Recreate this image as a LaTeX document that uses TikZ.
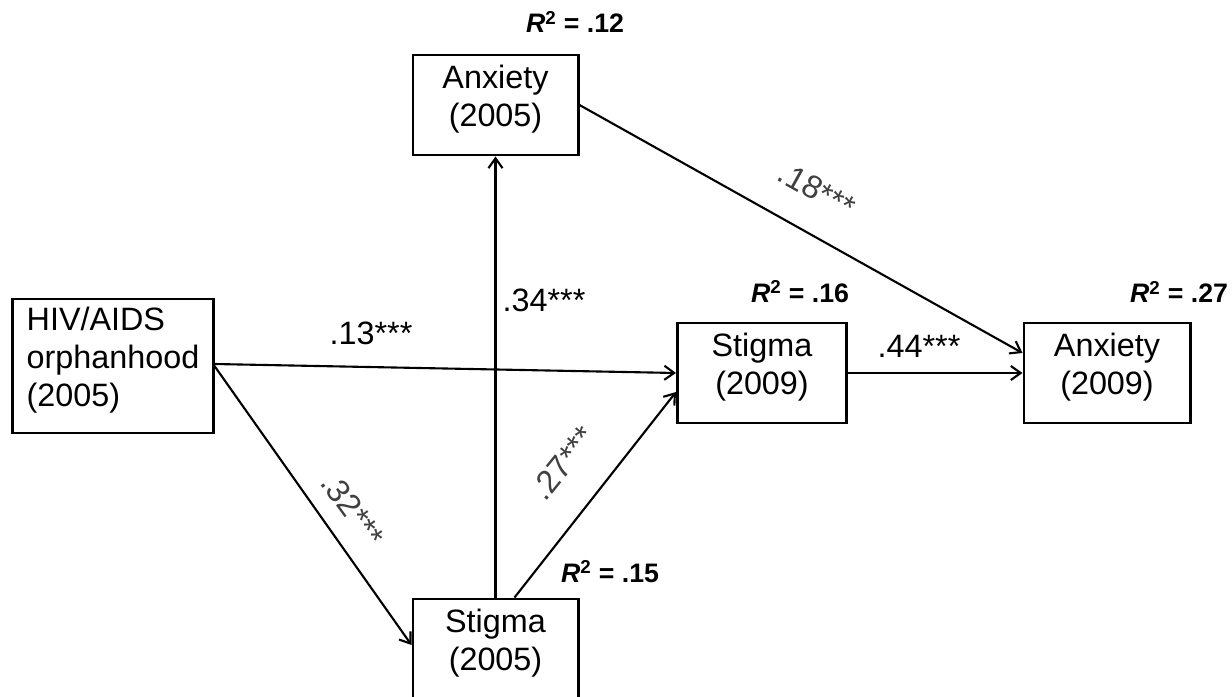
\documentclass[tikz,border=0pt]{standalone}
\usepackage{fontspec}
\setmainfont{Liberation Sans}
\usetikzlibrary{arrows.meta}

\tikzset{
  varbox/.style={draw, line width=2.1pt, minimum width=4.125cm, minimum height=2.5cm,
    align=center, inner sep=0pt, text depth=13.5pt, font=\fontsize{23}{27}\selectfont},
  effect/.style={line width=1.5pt, -{Straight Barb[length=7pt,width=10pt]}},
  coef/.style={font=\fontsize{23}{27}\selectfont},
  rsq/.style={font=\fontsize{19}{23}\selectfont\bfseries}
}
\newcommand{\rsqval}[1]{\textit{R}\textsuperscript{2} = #1}

\begin{document}
\begin{tikzpicture}[x=0.025cm,y=-0.025cm]
\useasboundingbox (0,0) rectangle (1232,697);

% variables
\node[varbox] (anx05) at (495.5,105) {Anxiety\\(2005)};
\node[varbox, minimum width=5cm, minimum height=3.35cm, align=left] (hiv) at (113,366) {HIV/AIDS\\orphanhood\\(2005)};
\node[varbox, minimum width=4.225cm] (stig09) at (762,373) {Stigma\\(2009)};
\node[varbox, minimum width=4.15cm] (anx09) at (1107,373) {Anxiety\\(2009)};
\node[varbox] (stig05) at (495.5,649) {Stigma\\(2005)};

% explained variance
\node[rsq] (r12) at (575,22) {\rsqval{.12}};
\node[rsq] (r16) at (800,292) {\rsqval{.16}};
\node[rsq] (r27) at (1179,292) {\rsqval{.27}};
\node[rsq] (r15) at (610,572) {\rsqval{.15}};

% paths
\draw[effect] ([yshift=0.05cm]hiv.east) -- (stig09.west);
\draw[effect] (hiv.east) -- ([yshift=0.1cm]stig05.west);
\draw[effect] (stig05.north) -- (anx05.south);
\draw[effect] ([xshift=0.475cm]stig05.north) -- ([yshift=-0.475cm]stig09.west);
\draw[effect] (anx05.east) -- ([yshift=0.5cm]anx09.west);
\draw[effect] (stig09.east) -- (anx09.west);

% coefficients
\node[coef] (c34) at (544,300) {.34***};
\node[coef] (c13) at (371,333) {.13***};
\node[coef] (c44) at (919,346) {.44***};
\node[coef, black!75, rotate=-54] (c32) at (353,510) {.32***};
\node[coef, black!75, rotate=51] (c27) at (563,463) {.27***};
\node[coef, black!75, rotate=-29] (c18) at (817,190) {.18***};

\end{tikzpicture}
\end{document}
